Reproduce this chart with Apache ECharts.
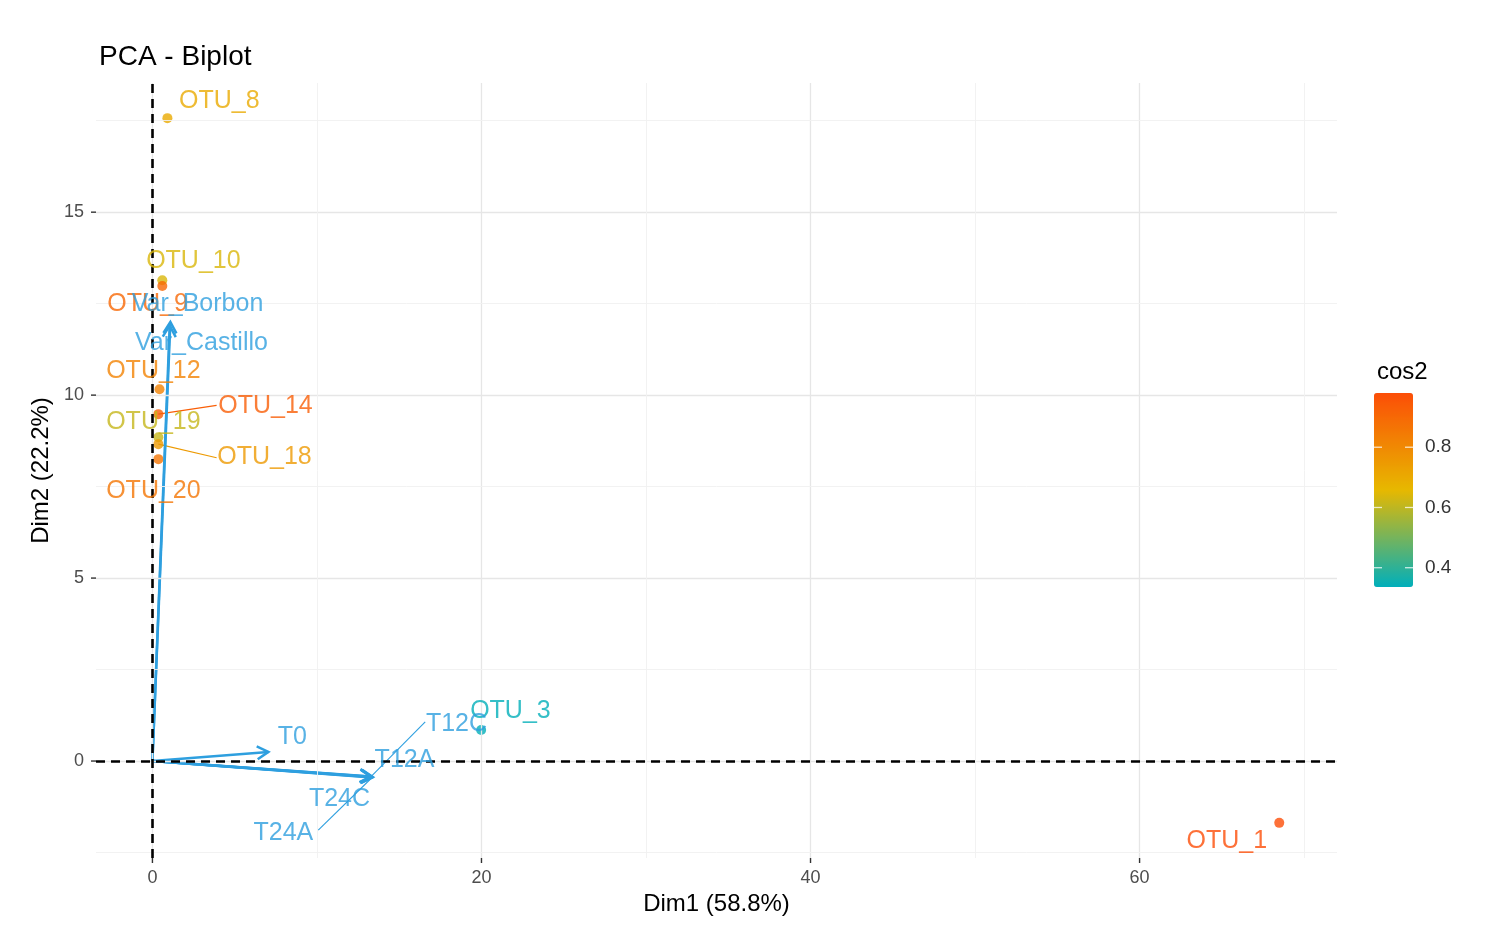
<!DOCTYPE html>
<html>
<head>
<meta charset="utf-8">
<script src="https://cdn.jsdelivr.net/npm/echarts@6/dist/echarts.min.js"></script>
<style>
  html, body { margin: 0; padding: 0; background: #fff; }
  #chart { width: 1488px; height: 937px; }
</style>
</head>
<body>
<div id="chart"></div>
<script>
// individuals (OTUs)
const otuNames = ['OTU_3', 'OTU_8', 'OTU_10', 'OTU_9', 'OTU_12', 'OTU_14', 'OTU_19', 'OTU_18', 'OTU_20', 'OTU_1'];
const otuDim1 = [19.98, 0.91, 0.6, 0.6, 0.43, 0.36, 0.36, 0.36, 0.36, 68.49];
const otuDim2 = [0.85, 17.57, 13.14, 12.98, 10.16, 9.48, 8.85, 8.66, 8.25, -1.69];
const otuCos2 = [0.34, 0.70, 0.64, 0.90, 0.82, 0.93, 0.61, 0.75, 0.86, 0.98];
// repelled label positions
const otuLabelX = [21.76, 4.07, 2.49, -0.3, 0.06, 6.87, 0.06, 6.81, 0.06, 65.3];
const otuLabelY = [1.37, 18.03, 13.66, 12.49, 10.66, 9.70, 9.26, 8.31, 7.38, -2.19];
const otuLeaderX = [null, null, null, null, null, 3.9, null, 3.9, null, null];
const otuLeaderY = [null, null, null, null, null, 9.72, null, 8.29, null, null];

// variables
const varNames = ['Var_Borbon', 'Var_Castillo', 'T0', 'T12A', 'T12C', 'T24A', 'T24C'];
const varDim1 = [1.09, 1.05, 7.05, 13.4, 13.3, 13.35, 13.3];
const varDim2 = [12.0, 11.9, 0.25, -0.44, -0.42, -0.45, -0.43];
const varLabelX = [2.74, 2.98, 8.51, 15.32, 18.48, 7.96, 11.37];
const varLabelY = [12.49, 11.42, 0.66, 0.03, 1.01, -1.97, -1.04];
const varLeaderX = [null, null, null, null, 16.58, 10.08, null];
const varLeaderY = [null, null, null, null, 1.07, -1.89, null];

// axes
const xRange = [-3.43, 72.0];
const yRange = [-2.65, 18.53];
const xTicks = [0, 20, 40, 60];
const yTicks = [0, 5, 10, 15];
const xMinor = [10, 30, 50, 70];
const yMinor = [-2.5, 2.5, 7.5, 12.5, 17.5];
const cos2Ticks = [0.4, 0.6, 0.8];
const cos2Range = [0.336, 0.98];

const gradCols = ['#00AFBB', '#E7B800', '#FC4E07'];
const varCol = '#2E9FDF';
const font = 'Liberation Sans, Arial, Helvetica, sans-serif';

function hex2rgb(h) {
  return [parseInt(h.slice(1, 3), 16), parseInt(h.slice(3, 5), 16), parseInt(h.slice(5, 7), 16)];
}
function cosColor(v) {
  let t = (v - cos2Range[0]) / (cos2Range[1] - cos2Range[0]);
  t = Math.max(0, Math.min(1, t));
  let a, b, u;
  if (t < 0.5) { a = hex2rgb(gradCols[0]); b = hex2rgb(gradCols[1]); u = t / 0.5; }
  else { a = hex2rgb(gradCols[1]); b = hex2rgb(gradCols[2]); u = (t - 0.5) / 0.5; }
  const c = a.map((x, i) => Math.round(x + (b[i] - x) * u));
  return 'rgb(' + c.join(',') + ')';
}

const chart = echarts.init(document.getElementById('chart'));

const pointData = otuNames.map((n, i) => ({ name: n, value: [otuDim1[i], otuDim2[i], otuCos2[i]] }));

const labelData = [];
otuNames.forEach((n, i) => {
  labelData.push({ name: n, value: [otuLabelX[i], otuLabelY[i]], label: { color: cosColor(otuCos2[i]) } });
});
varNames.forEach((n, i) => {
  labelData.push({ name: n, value: [varLabelX[i], varLabelY[i]], label: { color: varCol } });
});

const leaderData = [];
otuNames.forEach((n, i) => {
  if (otuLeaderX[i] != null) {
    leaderData.push({ coords: [[otuDim1[i], otuDim2[i]], [otuLeaderX[i], otuLeaderY[i]]], lineStyle: { color: cosColor(otuCos2[i]) } });
  }
});
varNames.forEach((n, i) => {
  if (varLeaderX[i] != null) {
    leaderData.push({ coords: [[varDim1[i], varDim2[i]], [varLeaderX[i], varLeaderY[i]]], lineStyle: { color: varCol } });
  }
});

const gridLines = [];
xTicks.forEach(v => gridLines.push({ xAxis: v, lineStyle: { color: '#E6E6E6', width: 1.3, type: 'solid' } }));
yTicks.forEach(v => gridLines.push({ yAxis: v, lineStyle: { color: '#E6E6E6', width: 1.3, type: 'solid' } }));
xMinor.forEach(v => gridLines.push({ xAxis: v, lineStyle: { color: '#F1F1F1', width: 0.9, type: 'solid' } }));
yMinor.forEach(v => gridLines.push({ yAxis: v, lineStyle: { color: '#F1F1F1', width: 0.9, type: 'solid' } }));

// small outward tick marks (ggplot style), placed through the axis scales
const tickLen = 5;
const tickStroke = { stroke: '#333', lineWidth: 1.4 };
function xTickItem(params, api) {
  const p = api.coord([api.value(0), yRange[0]]);
  return { type: 'line', shape: { x1: p[0], y1: p[1], x2: p[0], y2: p[1] + tickLen }, style: tickStroke };
}
function yTickItem(params, api) {
  const p = api.coord([xRange[0], api.value(0)]);
  return { type: 'line', shape: { x1: p[0] - tickLen, y1: p[1], x2: p[0], y2: p[1] }, style: tickStroke };
}
// white ticks inside the colour bar
function barTickItem(params, api) {
  const l = api.coord([0, api.value(0)]);
  const r = api.coord([1, api.value(0)]);
  const st = { stroke: 'rgba(255,255,255,0.75)', lineWidth: 1.3 };
  return {
    type: 'group',
    children: [
      { type: 'line', shape: { x1: l[0], y1: l[1], x2: l[0] + 8, y2: l[1] }, style: st },
      { type: 'line', shape: { x1: r[0] - 8, y1: r[1], x2: r[0], y2: r[1] }, style: st }
    ]
  };
}

const option = {
  animation: false,
  backgroundColor: '#fff',
  textStyle: { fontFamily: font },
  title: [
    { text: 'PCA - Biplot', left: 94, top: 38, textStyle: { fontFamily: font, fontSize: 28, fontWeight: 'normal', color: '#000' } },
    { text: 'cos2', left: 1372, top: 355, textStyle: { fontFamily: font, fontSize: 24, fontWeight: 'normal', color: '#000' } }
  ],
  grid: [
    { left: 96, top: 83, width: 1241, height: 775 },
    { left: 1374, top: 393, width: 39, height: 194 }
  ],
  xAxis: [
    {
      type: 'value', gridIndex: 0, min: xRange[0], max: xRange[1],
      name: 'Dim1 (58.8%)', nameLocation: 'middle', nameGap: 34,
      nameTextStyle: { fontFamily: font, fontSize: 24, color: '#000' },
      axisLine: { show: false },
      axisTick: { show: false },
      axisLabel: { customValues: xTicks, color: '#4D4D4D', fontSize: 18, margin: 11, fontFamily: font },
      splitLine: { show: false }
    },
    { type: 'value', gridIndex: 1, show: false, min: 0, max: 1 }
  ],
  yAxis: [
    {
      type: 'value', gridIndex: 0, min: yRange[0], max: yRange[1],
      name: 'Dim2 (22.2%)', nameLocation: 'middle', nameGap: 36, nameRotate: 90,
      nameTextStyle: { fontFamily: font, fontSize: 24, color: '#000' },
      axisLine: { show: false },
      axisTick: { show: false },
      axisLabel: { customValues: yTicks, color: '#4D4D4D', fontSize: 18, margin: 12, fontFamily: font },
      splitLine: { show: false }
    },
    {
      type: 'value', gridIndex: 1, position: 'right', min: cos2Range[0], max: cos2Range[1],
      axisLine: { show: false },
      axisTick: { show: false },
      axisLabel: { customValues: cos2Ticks, color: '#333', fontSize: 19, margin: 12, fontFamily: font },
      splitLine: { show: false }
    }
  ],
  visualMap: {
    type: 'continuous',
    min: cos2Range[0], max: cos2Range[1],
    dimension: 2,
    seriesIndex: 2,
    calculable: false,
    inRange: { color: gradCols },
    itemWidth: 39, itemHeight: 194,
    left: 1374, top: 393,
    padding: 0,
    text: null,
    showLabel: false
  },
  series: [
    {
      // background grid lines
      type: 'scatter', xAxisIndex: 0, yAxisIndex: 0, data: [], z: 0, silent: true,
      markLine: { silent: true, symbol: 'none', label: { show: false }, data: gridLines }
    },
    {
      // zero reference lines
      type: 'scatter', xAxisIndex: 0, yAxisIndex: 0, data: [], z: 1, silent: true,
      markLine: {
        silent: true, symbol: 'none', label: { show: false },
        lineStyle: { color: '#000', width: 2.6, type: [9, 6] },
        data: [{ xAxis: 0 }, { yAxis: 0 }]
      }
    },
    {
      name: 'individuals', type: 'scatter', xAxisIndex: 0, yAxisIndex: 0,
      symbolSize: 10, data: pointData, z: 3
    },
    {
      name: 'leaders', type: 'lines', coordinateSystem: 'cartesian2d', xAxisIndex: 0, yAxisIndex: 0,
      polyline: false, symbol: 'none', silent: true, z: 2,
      lineStyle: { width: 1.1, opacity: 1 },
      data: leaderData
    },
    {
      name: 'variables', type: 'custom', xAxisIndex: 0, yAxisIndex: 0, z: 4,
      data: varNames.map((n, i) => [varDim1[i], varDim2[i]]),
      renderItem: function (params, api) {
        const p0 = api.coord([0, 0]);
        const p1 = api.coord([api.value(0), api.value(1)]);
        const ang = Math.atan2(p1[1] - p0[1], p1[0] - p0[0]);
        const hl = 13, ha = Math.PI / 6;
        const h1 = [p1[0] - hl * Math.cos(ang - ha), p1[1] - hl * Math.sin(ang - ha)];
        const h2 = [p1[0] - hl * Math.cos(ang + ha), p1[1] - hl * Math.sin(ang + ha)];
        const st = { stroke: varCol, lineWidth: 2.5, fill: null };
        return {
          type: 'group',
          children: [
            { type: 'line', shape: { x1: p0[0], y1: p0[1], x2: p1[0], y2: p1[1] }, style: st },
            { type: 'polyline', shape: { points: [h1, p1, h2] }, style: st }
          ]
        };
      }
    },
    {
      name: 'labels', type: 'scatter', xAxisIndex: 0, yAxisIndex: 0, z: 5,
      symbolSize: 0, silent: true,
      label: { show: true, position: 'inside', formatter: '{b}', fontSize: 25, fontFamily: font },
      data: labelData
    },
    {
      name: 'barTicks', type: 'custom', xAxisIndex: 1, yAxisIndex: 1, z: 10, silent: true,
      data: cos2Ticks.map(v => [v]), renderItem: barTickItem
    },
    {
      name: 'xTicks', type: 'custom', xAxisIndex: 0, yAxisIndex: 0, clip: false, silent: true,
      data: xTicks.map(v => [v]), renderItem: xTickItem
    },
    {
      name: 'yTicks', type: 'custom', xAxisIndex: 0, yAxisIndex: 0, clip: false, silent: true,
      data: yTicks.map(v => [v]), renderItem: yTickItem
    }
  ]
};

chart.setOption(option);
</script>
</body>
</html>
